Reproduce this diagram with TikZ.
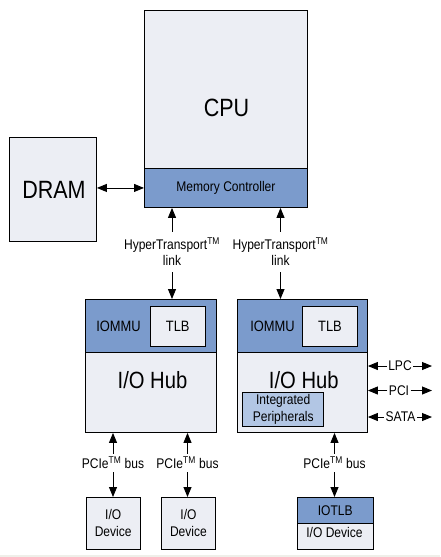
\documentclass[tikz,border=0pt]{standalone}
\usepackage{fontspec}
\setmainfont{Liberation Sans}[FakeStretch=0.86]
\usetikzlibrary{arrows.meta, calc, positioning}

\definecolor{boxgray}{RGB}{236,238,244}
\definecolor{boxblue}{RGB}{123,155,204}
\definecolor{boxlightblue}{RGB}{178,198,228}
\definecolor{stripgray}{RGB}{239,239,233}

\begin{document}
\begin{tikzpicture} [x=1pt, y=-1pt,
		% define styles
		graybox/.style={
			% The shape:
			rectangle,
			% The border:
			draw=black,
			line width=0.9pt,
			% The filling:
			fill=boxgray,
			% Placement
			inner sep=0pt,
			anchor=north west,
			% Font
			font=\fontsize{14}{17}\selectfont,
			align=center
		},
		bluebox/.style={
			graybox,
			% The filling:
			fill=boxblue
		},
		periphbox/.style={
			graybox,
			% The filling:
			fill=boxlightblue
		},
		bigtext/.style={
			inner sep=0pt,
			anchor=base,
			font=\fontsize{25}{30}\selectfont
		},
		hubtext/.style={
			bigtext,
			font=\fontsize{23.5}{28}\selectfont
		},
		smalltext/.style={
			inner sep=0pt,
			anchor=base,
			font=\fontsize{14}{17}\selectfont
		},
		linklabel/.style={
			inner sep=1.5pt,
			align=center,
			font=\fontsize{14}{16}\selectfont
		},
		arrow/.style={
			->,
			% Thickness
			line width=0.9pt,
			>={Triangle[length=10pt,width=8pt]},
			% Color
			black
		},
		biarrow/.style={
			arrow,
			<->
		}]
		% end of style definition

		\useasboundingbox (0,0) rectangle (440,557);
		\fill [stripgray] (0,555) rectangle (440,557);

		% draw nodes
		\node (cpu) [graybox, minimum width=163pt, minimum height=197pt] at (144,10) {};
		\node (mc) [bluebox, minimum width=163pt, minimum height=39pt] at (144,168) {Memory Controller};
		\node (cputext) [bigtext] at (226.5,116.5) {CPU};

		\node (dram) [graybox, minimum width=87pt, minimum height=104pt] at (9,137) {};
		\node (dramtext) [bigtext] at (54,198) {DRAM};

		\node (hub1) [graybox, minimum width=130.5pt, minimum height=133pt] at (85,299) {};
		\node (iommu1) [bluebox, minimum width=130.5pt, minimum height=53pt] at (85,299) {};
		\node (tlb1) [graybox, minimum width=54.5pt, minimum height=39.5pt, font=\fontsize{15}{18}\selectfont] at (150,306) {TLB};
		\node (iommutext1) [smalltext, font=\fontsize{15}{18}\selectfont] at (118.5,331.5) {IOMMU};
		\node (hubtext1) [hubtext] at (152.5,388.5) {I/O Hub};

		\node (hub2) [graybox, minimum width=130pt, minimum height=133pt] at (237,299) {};
		\node (iommu2) [bluebox, minimum width=130pt, minimum height=53pt] at (237,299) {};
		\node (tlb2) [graybox, minimum width=54.5pt, minimum height=39.5pt, font=\fontsize{15}{18}\selectfont] at (302.3,306) {TLB};
		\node (iommutext2) [smalltext, font=\fontsize{15}{18}\selectfont] at (272.5,331.5) {IOMMU};
		\node (hubtext2) [hubtext] at (303.8,388.5) {I/O Hub};
		\node (periph) [periphbox, minimum width=81pt, minimum height=33.4pt] at (242.3,392.3) {Integrated\\Peripherals};

		\node (ht1) [linklabel, minimum height=40pt] at (172,252) {HyperTransport\textsuperscript{TM}\\link};
		\node (ht2) [linklabel, minimum height=40pt] at (280.5,252) {HyperTransport\textsuperscript{TM}\\link};

		\node (pcie1) [linklabel, minimum height=18pt] at (113,463) {PCIe\textsuperscript{TM} bus};
		\node (pcie2) [linklabel, minimum height=18pt] at (187.5,463) {PCIe\textsuperscript{TM} bus};
		\node (pcie3) [linklabel, minimum height=18pt] at (334.5,463) {PCIe\textsuperscript{TM} bus};

		\node (dev1) [graybox, minimum width=53.5pt, minimum height=52pt] at (86,497) {I/O\\Device};
		\node (dev2) [graybox, minimum width=54pt, minimum height=52pt] at (161,497) {I/O\\Device};
		\node (dev3) [graybox, minimum width=75.5pt, minimum height=52pt] at (297,497) {};
		\node (iotlb) [bluebox, minimum width=75.5pt, minimum height=25.7pt] at (297,497) {IOTLB};
		\node (dev3text) [smalltext] at (334.5,537.5) {I/O Device};

		\node (lpc) [linklabel] at (400,366) {LPC};
		\node (pci) [linklabel] at (399,390.5) {PCI};
		\node (sata) [linklabel] at (400.5,417) {SATA};
		\coordinate (lpcend) at (432,366);
		\coordinate (pciend) at (432,390.5);
		\coordinate (sataend) at (432,417);

		% connect nodes
		\draw [biarrow] (dram.east |- mc.west) -- (mc.west);

		\draw [arrow] (ht1.north) -- (ht1.north |- mc.south);
		\draw [arrow] (ht1.south) -- (ht1.south |- hub1.north);
		\draw [arrow] (ht2.north) -- (ht2.north |- mc.south);
		\draw [arrow] (ht2.south) -- (ht2.south |- hub2.north);

		\draw [arrow] (pcie1.north) -- (pcie1.north |- hub1.south);
		\draw [arrow] (pcie1.south) -- (pcie1.south |- dev1.north);
		\draw [arrow] (pcie2.north) -- (pcie2.north |- hub1.south);
		\draw [arrow] (pcie2.south) -- (pcie2.south |- dev2.north);
		\draw [arrow] (pcie3.north) -- (pcie3.north |- hub2.south);
		\draw [arrow] (pcie3.south) -- (pcie3.south |- dev3.north);

		\draw [arrow] (lpc.west) -- (lpc.west -| hub2.east);
		\draw [arrow] (lpc.east) -- (lpcend);
		\draw [arrow] (pci.west) -- (pci.west -| hub2.east);
		\draw [arrow] (pci.east) -- (pciend);
		\draw [arrow] (sata.west) -- (sata.west -| hub2.east);
		\draw [arrow] (sata.east) -- (sataend);
	\end{tikzpicture}
\end{document}
